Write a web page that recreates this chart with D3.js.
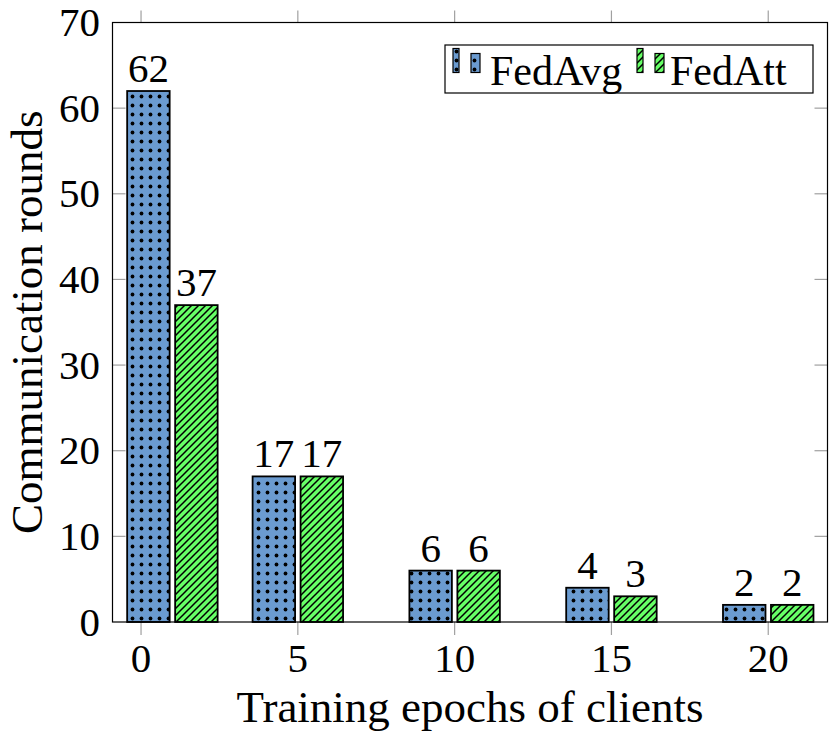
<!DOCTYPE html>
<html>
<head>
<meta charset="utf-8">
<script src="https://cdn.jsdelivr.net/npm/d3@7"></script>
<style>
  body { margin: 0; background: #fff; }
  text { font-family: "Liberation Serif", "Times New Roman", serif; fill: #000; }
</style>
</head>
<body>
<script>
// data
const epochs = [1, 5, 10, 15, 20];          // bar positions on the x axis
const xTicks = [0, 5, 10, 15, 20];
const xTickLabels = ["0", "5", "10", "15", "20"];
const yTicks = [0, 10, 20, 30, 40, 50, 60, 70];
const fedAvg = [62, 17, 6, 4, 2];
const fedAtt = [37, 17, 6, 3, 2];
const seriesNames = ["FedAvg", "FedAtt"];

const width = 829, height = 742;
const plotL = 112.5, plotR = 827.5, plotT = 22.5, plotB = 622;

const x = d3.scaleLinear().domain([-0.91, 21.89]).range([plotL, plotR]);
const y = d3.scaleLinear().domain([0, 70]).range([plotB, plotT]);

const barW = 1.355, barGap = 0.175; // in x units

const svg = d3.select("body").append("svg")
  .attr("width", width)
  .attr("height", height)
  .attr("viewBox", [0, 0, width, height]);

// patterns
const defs = svg.append("defs");
const dots = defs.append("pattern")
  .attr("id", "dots")
  .attr("patternUnits", "userSpaceOnUse")
  .attr("width", 9).attr("height", 9)
  .attr("x", 2).attr("y", 2);
dots.append("rect").attr("width", 9).attr("height", 9).attr("fill", "#6b9bd0");
dots.append("circle").attr("cx", 4.5).attr("cy", 4.5).attr("r", 1.9).attr("fill", "#000");

const hatch = defs.append("pattern")
  .attr("id", "hatch")
  .attr("patternUnits", "userSpaceOnUse")
  .attr("width", 7).attr("height", 7);
hatch.append("rect").attr("width", 7).attr("height", 7).attr("fill", "#66ff66");
hatch.append("path")
  .attr("d", "M-1,8 L8,-1 M-1,1 L1,-1 M6,8 L8,6")
  .attr("stroke", "#000")
  .attr("stroke-width", 1.5);

// ticks (grey)
const tickColor = "#a0a0a0";
const ticks = svg.append("g").attr("stroke", tickColor).attr("stroke-width", 1.2);
ticks.append("g").selectAll("line").data(xTicks).join("line")
  .attr("x1", d => x(d)).attr("x2", d => x(d))
  .attr("y1", plotB).attr("y2", plotB + 13);
ticks.append("g").selectAll("line").data(xTicks).join("line")
  .attr("x1", d => x(d)).attr("x2", d => x(d))
  .attr("y1", plotT).attr("y2", plotT - 12);
ticks.append("g").selectAll("line").data(yTicks.slice(1, -1)).join("line")
  .attr("x1", plotL).attr("x2", plotL + 13)
  .attr("y1", d => y(d)).attr("y2", d => y(d));
ticks.append("g").selectAll("line").data(yTicks.slice(1, -1)).join("line")
  .attr("x1", plotR).attr("x2", plotR - 13)
  .attr("y1", d => y(d)).attr("y2", d => y(d));

// bars
const groups = [
  { values: fedAvg, fill: "url(#dots)", off: -barGap / 2 - barW },
  { values: fedAtt, fill: "url(#hatch)", off: barGap / 2 },
];
groups.forEach(s => {
  const g = svg.append("g");
  g.selectAll("rect").data(epochs).join("rect")
    .attr("x", (d) => x(d + s.off))
    .attr("width", x(barW) - x(0))
    .attr("y", (d, i) => y(s.values[i]))
    .attr("height", (d, i) => y(0) - y(s.values[i]))
    .attr("fill", s.fill)
    .attr("stroke", "#000")
    .attr("stroke-width", 1.8);
  g.selectAll("text").data(epochs).join("text")
    .attr("x", (d) => x(d + s.off + barW / 2))
    .attr("y", (d, i) => y(s.values[i]) - 9)
    .attr("text-anchor", "middle")
    .attr("font-size", 41)
    .text((d, i) => s.values[i]);
});

// frame
svg.append("rect")
  .attr("x", plotL).attr("y", plotT)
  .attr("width", plotR - plotL).attr("height", plotB - plotT)
  .attr("fill", "none").attr("stroke", "#000").attr("stroke-width", 1.2);

// tick labels
svg.append("g").selectAll("text").data(xTicks).join("text")
  .attr("x", d => x(d))
  .attr("y", 672)
  .attr("text-anchor", "middle")
  .attr("font-size", 41)
  .text((d, i) => xTickLabels[i]);
svg.append("g").selectAll("text").data(yTicks).join("text")
  .attr("x", 100)
  .attr("y", d => y(d) + 13.5)
  .attr("text-anchor", "end")
  .attr("font-size", 41)
  .text(d => d);

// axis titles
svg.append("text")
  .attr("x", (plotL + plotR) / 2)
  .attr("y", 722)
  .attr("text-anchor", "middle")
  .attr("font-size", 45)
  .text("Training epochs of clients");
svg.append("text")
  .attr("transform", `translate(42,${(plotT + plotB) / 2}) rotate(-90)`)
  .attr("text-anchor", "middle")
  .attr("font-size", 45)
  .text("Communication rounds");

// legend
const legend = svg.append("g");
legend.append("rect")
  .attr("x", 445).attr("y", 45).attr("width", 368).attr("height", 48)
  .attr("fill", "#fff").attr("stroke", "#000").attr("stroke-width", 1.2);
const legendItems = [
  { name: seriesNames[0], fill: "url(#dots)", x0: 453, tx: 490 },
  { name: seriesNames[1], fill: "url(#hatch)", x0: 637, tx: 670 },
];
legendItems.forEach(it => {
  legend.append("rect")
    .attr("x", it.x0).attr("y", 48.5).attr("width", 6).attr("height", 24)
    .attr("fill", it.fill).attr("stroke", "#000").attr("stroke-width", 1.2);
  legend.append("rect")
    .attr("x", it.x0 + 18).attr("y", 53.5).attr("width", 9).attr("height", 19)
    .attr("fill", it.fill).attr("stroke", "#000").attr("stroke-width", 1.2);
  legend.append("text")
    .attr("x", it.tx).attr("y", 85)
    .attr("font-size", 42)
    .text(it.name);
});
</script>
</body>
</html>
